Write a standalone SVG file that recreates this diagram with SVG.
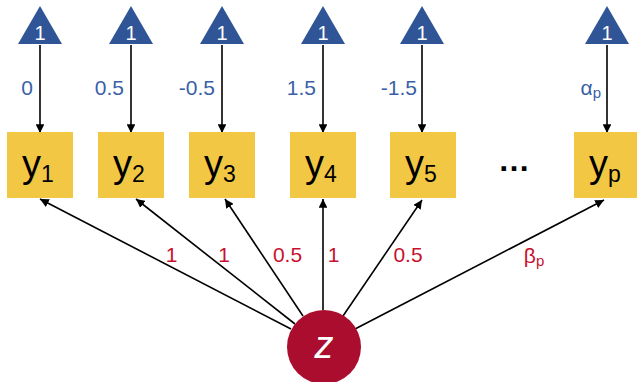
<svg xmlns="http://www.w3.org/2000/svg" width="637" height="382" viewBox="0 0 637 382">
  <style>
    .tri { fill: #2F5597; }
    .one { font-family: "Liberation Sans", Arial, sans-serif; font-size: 20px; fill: #ffffff; text-anchor: middle; }
    .box { fill: #F2C744; }
    .var { font-family: "Liberation Sans", Arial, sans-serif; fill: #000000; }
    .var .main { font-size: 38px; }
    .var .sub { font-size: 23px; }
    .lat { fill: #AB0D2E; }
    .latlab { font-family: "Liberation Sans", Arial, sans-serif; font-size: 38px; font-style: italic; fill: #ffffff; text-anchor: middle; }
    .edge { stroke: #000000; stroke-width: 1.6; fill: none; marker-end: url(#head); }
    .int { font-family: "Liberation Sans", Arial, sans-serif; font-size: 21px; fill: #3A5FA8; text-anchor: end; }
    .load { font-family: "Liberation Sans", Arial, sans-serif; font-size: 21px; fill: #C8102E; text-anchor: middle; }
    .dots { font-family: "Liberation Sans", Arial, sans-serif; font-size: 32px; font-weight: bold; fill: #000000; text-anchor: middle; }
  </style>
  <defs>
    <marker id="head" viewBox="0 0 10 10" refX="10" refY="5" markerWidth="5.5" markerHeight="5.5" orient="auto" markerUnits="strokeWidth">
      <path d="M0,0 L10,5 L0,10 z" fill="#000000"/>
    </marker>
  </defs>

  <!-- connectors: intercepts from constants, loadings from the factor -->
  <g id="connectors">
    <line class="edge" x1="40" y1="45" x2="40" y2="133"/>
    <line class="edge" x1="131" y1="45" x2="131" y2="133"/>
    <line class="edge" x1="222" y1="45" x2="222" y2="133"/>
    <line class="edge" x1="323" y1="45" x2="323" y2="133"/>
    <line class="edge" x1="422" y1="45" x2="422" y2="133"/>
    <line class="edge" x1="607" y1="45" x2="607" y2="133"/>

    <line class="edge" x1="291" y1="329" x2="40" y2="199"/>
    <line class="edge" x1="295" y1="324" x2="136" y2="199"/>
    <line class="edge" x1="303" y1="316" x2="225" y2="199"/>
    <line class="edge" x1="323" y1="310" x2="323" y2="199"/>
    <line class="edge" x1="343" y1="316" x2="422" y2="200"/>
    <line class="edge" x1="355" y1="329" x2="604" y2="200"/>

    <text class="int" x="33" y="95">0</text>
    <text class="int" x="124" y="95">0.5</text>
    <text class="int" x="215" y="95">-0.5</text>
    <text class="int" x="316" y="95">1.5</text>
    <text class="int" x="417" y="95">-1.5</text>
    <text class="int" x="601" y="95">α<tspan font-size="15" dy="3">p</tspan></text>

    <text class="load" x="171.5" y="262">1</text>
    <text class="load" x="224" y="262">1</text>
    <text class="load" x="287.5" y="262">0.5</text>
    <text class="load" x="333.5" y="262">1</text>
    <text class="load" x="408" y="262">0.5</text>
    <text class="load" x="534" y="263">β<tspan font-size="15" dy="3">p</tspan></text>
  </g>

  <!-- constants -->
  <g id="c1"><polygon class="tri" points="40,6 18,44 62,44"/><text class="one" x="40" y="40">1</text></g>
  <g id="c2"><polygon class="tri" points="131,6 109,44 153,44"/><text class="one" x="131" y="40">1</text></g>
  <g id="c3"><polygon class="tri" points="222,6 200,44 244,44"/><text class="one" x="222" y="40">1</text></g>
  <g id="c4"><polygon class="tri" points="323,6 301,44 345,44"/><text class="one" x="323" y="40">1</text></g>
  <g id="c5"><polygon class="tri" points="422,6 400,44 444,44"/><text class="one" x="422" y="40">1</text></g>
  <g id="cp"><polygon class="tri" points="607,6 585,44 629,44"/><text class="one" x="607" y="40">1</text></g>

  <!-- observed variables -->
  <g id="y1"><rect class="box" x="7" y="132" width="66" height="66"/>
    <text class="var" x="22" y="177"><tspan class="main">y</tspan><tspan class="sub" dy="5">1</tspan></text></g>
  <g id="y2"><rect class="box" x="98" y="132" width="66" height="66"/>
    <text class="var" x="113" y="177"><tspan class="main">y</tspan><tspan class="sub" dy="5">2</tspan></text></g>
  <g id="y3"><rect class="box" x="189" y="132" width="66" height="66"/>
    <text class="var" x="204" y="177"><tspan class="main">y</tspan><tspan class="sub" dy="5">3</tspan></text></g>
  <g id="y4"><rect class="box" x="290" y="132" width="66" height="66"/>
    <text class="var" x="305" y="177"><tspan class="main">y</tspan><tspan class="sub" dy="5">4</tspan></text></g>
  <g id="y5"><rect class="box" x="390" y="132" width="66" height="66"/>
    <text class="var" x="405" y="177"><tspan class="main">y</tspan><tspan class="sub" dy="5">5</tspan></text></g>
  <g id="yp"><rect class="box" x="574" y="132" width="66" height="66"/>
    <text class="var" x="589" y="177"><tspan class="main">y</tspan><tspan class="sub" dy="5">p</tspan></text></g>

  <g id="ellipsis"><text class="dots" x="514" y="171">…</text></g>

  <!-- latent factor -->
  <g id="z"><circle class="lat" cx="324" cy="347" r="37"/><text class="latlab" x="324" y="358">z</text></g>
</svg>
